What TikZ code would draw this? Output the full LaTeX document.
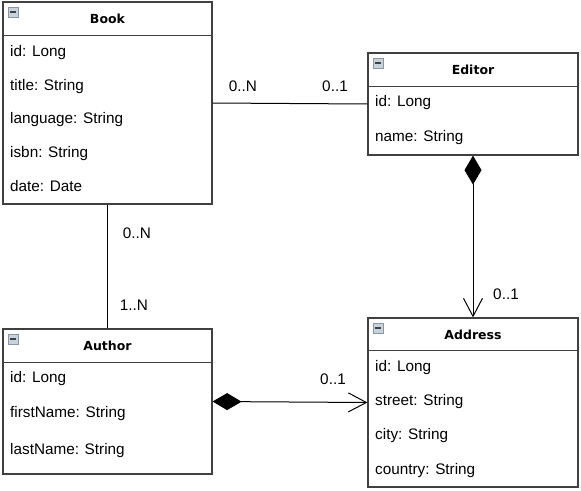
\documentclass[tikz,border=0pt]{standalone}
\usepackage{fontspec}
\setmainfont{Liberation Sans}
\newfontfamily\titlefont{DejaVu Sans}
\usepackage{xcolor}
\usepackage{tikz}
\usetikzlibrary{arrows.meta, positioning, calc}

\definecolor{boxline}{HTML}{404040}
\definecolor{iconfill}{HTML}{C8D2DC}
\definecolor{iconline}{HTML}{8C96A0}

\tikzset{
    classbox/.style={draw=boxline, line width=1.2pt, fill=white, inner sep=0pt},
    classtitle/.style={font=\titlefont\bfseries\fontsize{12.5}{14}\selectfont, inner sep=0pt},
    attr/.style={anchor=west, font=\fontsize{15.3}{17}\selectfont, inner sep=0pt, text height=11pt, text depth=2pt},
    mult/.style={font=\fontsize{15.3}{17}\selectfont, inner sep=0pt},
    link/.style={line width=1pt, black},
    owns/.style={link, {Diamond[length=29pt, width=17pt]}-{Straight Barb[length=18pt, width=19pt, line width=1pt]}}
}

% header line and collapse icon of a class box
\newcommand{\classhead}[2]{%
    \draw[boxline, line width=1.2pt] ($(#1.north west)+(0,#2)$) -- ($(#1.north east)+(0,#2)$);
    \fill[iconfill, draw=iconline, line width=0.8pt] ($(#1.north west)+(5.5,5.5)$) rectangle ++(10,10);
    \draw[boxline, line width=1.8pt] ($(#1.north west)+(7.5,10.5)$) -- ++(6,0);
}

\begin{document}
\begin{tikzpicture}[x=1pt, y=-1pt]
    \useasboundingbox[fill=white] (0,0) rectangle (581,490);

    % Book
    \node[classbox, minimum width=209pt, minimum height=202pt] (book) at (107.5,103) {};
    \classhead{book}{34}
    \node[classtitle] (booktitle) at (107.5,19) {Book};
    \node[attr] (bookid) at (10,52) {id: Long};
    \node[attr] (booktitleattr) at (10,86) {title: String};
    \node[attr] (booklang) at (10,119) {language: String};
    \node[attr] (bookisbn) at (10,153) {isbn: String};
    \node[attr] (bookdate) at (10,187) {date: Date};

    % Editor
    \node[classbox, minimum width=210pt, minimum height=102pt] (editor) at (473,104) {};
    \classhead{editor}{34}
    \node[classtitle] (editortitle) at (473,70) {Editor};
    \node[attr] (editorid) at (375,102) {id: Long};
    \node[attr] (editorname) at (375,137) {name: String};

    % Author
    \node[classbox, minimum width=209pt, minimum height=145pt] (author) at (107.5,401.5) {};
    \classhead{author}{34}
    \node[classtitle] (authortitle) at (107.5,346) {Author};
    \node[attr] (authorid) at (10,378) {id: Long};
    \node[attr] (authorfirst) at (10,413) {firstName: String};
    \node[attr] (authorlast) at (10,450) {lastName: String};

    % Address
    \node[classbox, minimum width=210pt, minimum height=169pt] (address) at (473,402.5) {};
    \classhead{address}{33}
    \node[classtitle] (addresstitle) at (473,335) {Address};
    \node[attr] (addressid) at (375,367) {id: Long};
    \node[attr] (addressstreet) at (375,401) {street: String};
    \node[attr] (addresscity) at (375,435) {city: String};
    \node[attr] (addresscountry) at (375,470) {country: String};

    % associations
    \draw[link] (book.east) -- (editor.west);
    \draw[link] (book.south) -- (author.north);
    \draw[owns] (editor.south) -- (address.north);
    \draw[owns] (author.east) -- (address.west);

    % multiplicities
    \node[mult] (multbe) at (243,86) {0..N};
    \node[mult] (multeb) at (335,86) {0..1};
    \node[mult] (multba) at (137,233) {0..N};
    \node[mult] (multab) at (134,305) {1..N};
    \node[mult] (multed) at (506,294) {0..1};
    \node[mult] (multad) at (333,379) {0..1};
\end{tikzpicture}
\end{document}
